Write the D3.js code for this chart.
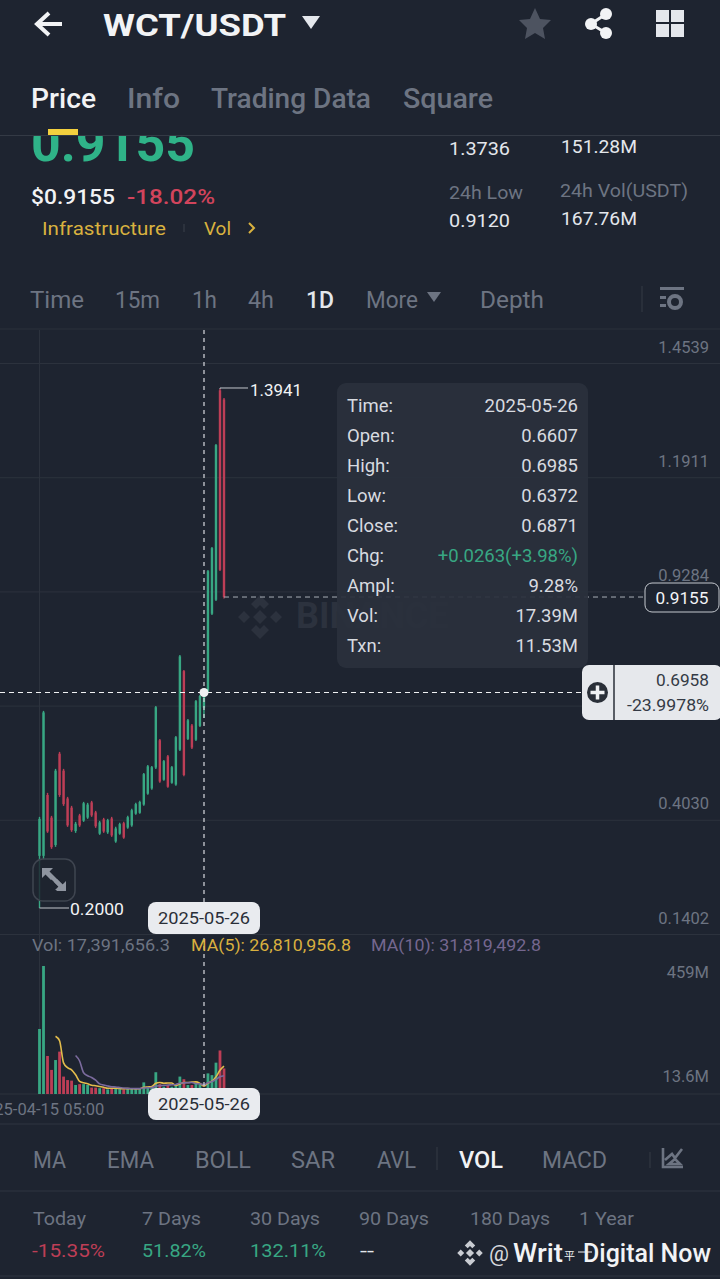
<!DOCTYPE html>
<html><head><meta charset="utf-8">
<style>html,body{margin:0;padding:0;background:#1e2430;overflow:hidden}svg{display:block}text{font-family:Roboto,"Noto Sans",sans-serif}</style>
<script src="https://d3js.org/d3.v7.min.js"></script></head><body>
<svg id="c" width="720" height="1279"></svg>
<script>
const highs=[.4097,.6535,.4649,.4120,.5201,.5592,.5201,.4557,.4350,.3982,.4166,.4442,.4419,.4465,.4235,.4005,.4074,.4051,.4097,.3867,.3959,.3982,.4120,.4281,.4419,.4465,.5109,.5293,.5270,.6650,.5891,.5408,.5523,.5270,.5960,.7823,.7478,.6351,.6236,.6788,.6903,.6985,.9778,1.0307,1.2676,1.3941,1.3736];
const lows=[.2000,.3108,.3729,.3361,.3407,.4557,.4350,.3867,.3752,.3729,.3867,.3982,.4051,.4097,.3844,.3683,.3729,.3706,.3637,.3499,.3683,.3591,.3821,.3867,.4143,.4166,.4350,.4603,.4718,.5201,.4879,.4925,.4764,.4856,.4810,.5615,.5029,.5868,.5661,.5845,.6167,.6372,.6972,.8743,.9065,.9755,.9120];
const opens=[.320,.320,.460,.408,.345,.555,.516,.452,.431,.377,.413,.401,.408,.443,.420,.371,.404,.374,.406,.353,.371,.395,.385,.390,.417,.419,.438,.463,.475,.523,.586,.495,.549,.488,.484,.564,.745,.589,.620,.587,.619,.6607,.700,.877,.909,1.391,1.370];
const closes=[.405,.650,.376,.340,.516,.460,.439,.390,.379,.394,.390,.441,.438,.413,.388,.397,.376,.402,.367,.383,.393,.362,.409,.425,.439,.444,.508,.526,.524,.662,.491,.538,.479,.524,.593,.779,.506,.632,.569,.676,.688,.6871,.975,1.028,1.265,.978,.9155];
const volumes=[224,441,131,83,117,146,60,48,46,31,34,34,31,22,22,20,20,16,20,22,17,16,18,18,19,19,40,25,25,75,34,25,31,25,31,60,51,31,31,36,34,17.39,71,65,108,150,88];
const ma5=[null,null,null,null,199.2,183.6,107.4,90.8,83.4,66.2,43.8,38.6,35.2,30.4,28.6,25.8,23,20,19.6,19.6,19,18.2,18.6,18.2,17.6,18,22.8,24.2,25.6,36.8,39.8,36.8,38,38,29.2,34.4,39.6,39.6,40.8,41.8,36.6,26.8,37.9,44.7,59,82,96];
const ma10=[null,null,null,null,null,null,null,null,null,132.7,113.7,73,63,56.9,47.4,34.8,30.8,27.6,25,24.1,22.4,20.6,19.3,18.9,18.6,18.5,20.5,21.4,21.9,27.2,28.9,29.8,31.1,31.8,33,37.1,38.2,38.8,39.4,35.5,35.5,31.8,38.7,42.7,50.4,59.4,63.1];
const priceTicks=[1.4539,1.1911,0.9284,0.6657,0.4030,0.1402];
const volTicks=[459,13.6];
const xTickLabels=["2025-04-15 05:00"];
const tooltipKeys=["Time:","Open:","High:","Low:","Close:","Chg:","Ampl:","Vol:","Txn:"];
const tooltipVals=["2025-05-26","0.6607","0.6985","0.6372","0.6871","+0.0263(+3.98%)","9.28%","17.39M","11.53M"];

const UP="#38a783",DN="#bd3e56",GRID="#2c323d",GRAY="#6d7482",LIGHT="#e4e7ec",WHITE="#f2f3f5",YEL="#d9b23f";
const svg=d3.select("#c");
const t=(sel,x,y,s,o={})=>{const e=sel.append("text").attr("x",x).attr("y",y).attr("dominant-baseline","central")
 .attr("font-size",o.size||18).attr("fill",o.fill||LIGHT).attr("font-weight",o.weight||400).attr("text-anchor",o.anchor||"start").text(s);
 if(o.w)e.attr("textLength",o.w).attr("lengthAdjust","spacingAndGlyphs");return e;};
const hline=(sel,x1,x2,y,c)=>sel.append("line").attr("x1",x1).attr("x2",x2).attr("y1",y).attr("y2",y).attr("stroke",c).attr("stroke-width",1);

svg.append("rect").attr("width",720).attr("height",1279).attr("fill","#1e2430");

// ---- scales
const x=d3.scaleLinear().domain([0,46]).range([39.5,224]);
const y=d3.scaleLinear().domain([1.4539,0.1402]).range([363,934]);
const v=d3.scaleLinear().domain([0,441]).range([1094,966]);

// ---- axes
const pa=svg.append("g").call(d3.axisRight(y).tickValues(priceTicks).tickSize(720).tickFormat(d3.format(".4f")));
pa.select(".domain").remove();
pa.selectAll("line").attr("stroke",GRID);
pa.selectAll("text").attr("x",709).attr("dy",-11).attr("text-anchor","end").attr("fill",GRAY).attr("font-size",16.5).attr("font-family","Roboto");
hline(svg,0,720,1094,GRID);
svg.append("line").attr("x1",39.5).attr("x2",39.5).attr("y1",330).attr("y2",1094).attr("stroke",GRID);

const va=svg.append("g").call(d3.axisRight(v).tickValues(volTicks).tickSize(0).tickFormat(d=>d+"M"));
va.select(".domain").remove();
va.selectAll("text").attr("x",709).attr("text-anchor","end").attr("fill",GRAY).attr("font-size",16.5).attr("font-family","Roboto")
  .attr("dy",d=>d>100?17:-9);

const xa=svg.append("g").attr("transform","translate(0,1094)").call(d3.axisBottom(x).tickValues([0]).tickSize(0).tickFormat((d,i)=>xTickLabels[i]));
xa.select(".domain").remove();
xa.selectAll("text").attr("y",15).attr("dy",0).attr("dominant-baseline","central").attr("fill",GRAY).attr("font-size",16.5).attr("font-family","Roboto");

// ---- watermark
const wm=svg.append("g").attr("fill","#2c323e");
wm.append("path").attr("transform","translate(260,617)").attr("d","M0,-22L9,-13L4,-8L0,-12L-4,-8L-9,-13ZM-22,0L-16,-6L-10,0L-16,6ZM10,0L16,-6L22,0L16,6ZM0,-7L7,0L0,7L-7,0ZM0,22L9,13L4,8L0,12L-4,8L-9,13Z");
t(wm,296,616,"BINANCE",{size:36,weight:700,fill:"#2c323e"});

// ---- candles
const idx=d3.range(highs.length);
const col=i=>closes[i]>=opens[i]?UP:DN;
svg.append("g").selectAll("line").data(idx).join("line")
 .attr("x1",x).attr("x2",x).attr("y1",i=>y(highs[i])).attr("y2",i=>y(lows[i])).attr("stroke",col).attr("stroke-width",1.4);
svg.append("g").selectAll("rect").data(idx).join("rect")
 .attr("x",i=>x(i)-1.2).attr("width",2.4).attr("y",i=>Math.min(y(opens[i]),y(closes[i])))
 .attr("height",i=>Math.max(1,Math.abs(y(opens[i])-y(closes[i])))).attr("fill",col);

// ---- volume
svg.append("g").selectAll("rect").data(idx).join("rect")
 .attr("x",i=>x(i)-1.4).attr("width",2.8).attr("y",i=>v(volumes[i])).attr("height",i=>1094-v(volumes[i])).attr("fill",col);
const ln=d3.line().defined(d=>d!=null).x((d,i)=>x(i)).y(d=>v(d)).curve(d3.curveMonotoneX);
svg.append("path").attr("d",ln(ma5)).attr("fill","none").attr("stroke","#e3bc4c").attr("stroke-width",1.6);
svg.append("path").attr("d",ln(ma10)).attr("fill","none").attr("stroke","#7c6b9e").attr("stroke-width",1.6);

// ---- price line, crosshair
svg.append("line").attr("x1",224).attr("x2",645).attr("y1",y(.9155)).attr("y2",y(.9155)).attr("stroke","#a9aeb6").attr("stroke-dasharray","5 4");
svg.append("line").attr("x1",204).attr("x2",204).attr("y1",330).attr("y2",1094).attr("stroke","#d9dbe0").attr("stroke-dasharray","4 4").attr("stroke-width",1.2);
svg.append("line").attr("x1",0).attr("x2",582).attr("y1",y(.6958)).attr("y2",y(.6958)).attr("stroke","#f0f1f3").attr("stroke-dasharray","5 4").attr("stroke-width",1.2);
svg.append("circle").attr("cx",204).attr("cy",y(.6958)).attr("r",4.5).attr("fill","#eef0f2");

// ---- extreme labels
svg.append("path").attr("d",`M${x(45)},${y(1.3941)}V${y(1.3941)-1}H248`).attr("stroke","#c3c6cc").attr("fill","none");
t(svg,250,390,"1.3941",{size:16.5,w:52,fill:WHITE});
svg.append("path").attr("d",`M${x(0)},${y(.2)}H69`).attr("stroke","#c3c6cc").attr("fill","none");
t(svg,70,909,"0.2000",{size:16.5,w:54,fill:WHITE});

// ---- expand button
const ex=svg.append("g");
ex.append("rect").attr("x",33).attr("y",859).attr("width",42).attr("height",42).attr("rx",10).attr("fill","#1e2430").attr("fill-opacity",.82).attr("stroke","#3f4550").attr("stroke-width",1.5);
ex.append("path").attr("fill","#8f95a0").attr("d","M42,868H53L49.5,871.5L66,888L66,879 L66,890H55L58.5,886.5L42,870V879Z");
ex.append("path").attr("fill","#8f95a0").attr("d","M42,868H52L48.5,871.5L54,877L51,880L45.5,874.5L42,878ZM66,891H56L59.5,887.5L54,882L57,879L62.5,884.5L66,881Z");

// ---- tooltip
const tip=svg.append("g");
tip.append("rect").attr("x",337).attr("y",383).attr("width",251).attr("height",285).attr("rx",9).attr("fill","#2a303c").attr("fill-opacity",.93);
tooltipKeys.forEach((k,i)=>{
  t(tip,347,406+i*30,k,{size:18.5,fill:"#d8dbe0"});
  t(tip,578,406+i*30,tooltipVals[i],{size:18.5,anchor:"end",fill:i==5?UP:"#d8dbe0"});
});

// ---- tags
const tag=(cy)=>{const g=svg.append("g");g.append("rect").attr("x",148).attr("y",cy-16).attr("width",112).attr("height",32).attr("rx",8).attr("fill","#e9ebef");
 t(g,204,cy,"2025-05-26",{size:16.5,w:92,anchor:"middle",fill:"#2a2f38"});};
tag(918);tag(1104);
svg.append("rect").attr("x",645).attr("y",583).attr("width",74).attr("height",29).attr("rx",7).attr("fill","#1e2430").attr("stroke","#c4c8ce");
t(svg,682,598,"0.9155",{size:17,anchor:"middle",fill:WHITE,w:53});
const bx=svg.append("g");
bx.append("rect").attr("x",582).attr("y",665).attr("width",140).attr("height",55).attr("rx",7).attr("fill","#e6e8ec");
bx.append("line").attr("x1",614).attr("x2",614).attr("y1",665).attr("y2",720).attr("stroke","#2a2f38").attr("stroke-width",1.5);
bx.append("circle").attr("cx",597.5).attr("cy",692.5).attr("r",10.5).attr("fill","#2a2f38");
bx.append("path").attr("d","M597.5,685.5V699.5M590.5,692.5H604.5").attr("stroke","#f0f1f3").attr("stroke-width",3.5);
t(bx,709,680,"0.6958",{size:17,anchor:"end",fill:"#343a45",w:53});
t(bx,709,705,"-23.9978%",{size:17,anchor:"end",fill:"#343a45",w:82});

// ---- legend
t(svg,32,945,"Vol: 17,391,656.3",{size:16.5,fill:GRAY,w:138});
t(svg,191,945,"MA(5): 26,810,956.8",{size:16.5,fill:"#d9b03f",w:160});
t(svg,371,945,"MA(10): 31,819,492.8",{size:16.5,fill:"#75678f",w:170});

// ---- top stats (clip big price under tabs)
const defs=svg.append("defs");
defs.append("clipPath").attr("id","clipP").append("rect").attr("x",0).attr("y",136).attr("width",720).attr("height",100);
t(svg,31,143,"0.9155",{size:52,weight:700,fill:"#2fb388",w:164}).attr("clip-path","url(#clipP)");
t(svg,31,197,"$0.9155",{size:21,weight:500,fill:WHITE,w:84});
t(svg,127,197,"-18.02%",{size:21,weight:500,fill:"#d2445c",w:88});
t(svg,42,228,"Infrastructure",{size:19,fill:YEL,w:124});
svg.append("line").attr("x1",184).attr("x2",184).attr("y1",224).attr("y2",232).attr("stroke","#3a404b");
t(svg,204,228,"Vol",{size:19,fill:YEL,w:27});
svg.append("path").attr("d","M249,223L254,228L249,233").attr("fill","none").attr("stroke",YEL).attr("stroke-width",2);
t(svg,449,149,"1.3736",{size:18.5,w:61});t(svg,561,147,"151.28M",{size:18.5,w:76});
t(svg,449,193,"24h Low",{size:18.5,fill:GRAY,w:74});t(svg,560,191,"24h Vol(USDT)",{size:18.5,fill:GRAY,w:128});
t(svg,449,221,"0.9120",{size:18.5,w:61});t(svg,561,219,"167.76M",{size:18.5,w:76});

// ---- header
svg.append("path").attr("d","M62,24H38M49,13L37,24L49,35").attr("fill","none").attr("stroke",WHITE).attr("stroke-width",4);
t(svg,103,25,"WCT/USDT",{size:32,weight:700,fill:WHITE,w:183});
svg.append("path").attr("d","M302,16H320L311,29Z").attr("fill",LIGHT);
svg.append("path").attr("d","M535,8L540,19L551,20L543,28L545,39L535,33L525,39L527,28L519,20L530,19Z").attr("fill","#4d5360");
const sh=svg.append("g").attr("fill",WHITE);
sh.append("circle").attr("cx",606).attr("cy",14).attr("r",6);sh.append("circle").attr("cx",591).attr("cy",24).attr("r",6);sh.append("circle").attr("cx",606).attr("cy",33).attr("r",6);
svg.append("path").attr("d","M606,14L591,24L606,33").attr("fill","none").attr("stroke",WHITE).attr("stroke-width",3);
[[656,10,12],[671,10,12],[656,24,13],[671,24,13]].forEach(r=>svg.append("rect").attr("x",r[0]).attr("y",r[1]).attr("width",13).attr("height",r[2]).attr("fill",LIGHT));

[["Price",31,65,"#f2f3f5",500],["Info",127,53,GRAY,500],["Trading Data",211,160,GRAY,500],["Square",403,90,GRAY,500]]
 .forEach(d=>t(svg,d[1],99,d[0],{size:27,w:d[2],fill:d[3],weight:d[4]}));
svg.append("rect").attr("x",0).attr("y",135).attr("width",720).attr("height",1).attr("fill","#343a45");
svg.append("rect").attr("x",48).attr("y",129).attr("width",30).attr("height",6).attr("fill","#f3d03e");

// ---- toolbar
[["Time",30,54,GRAY],["15m",115,45,GRAY],["1h",192,25,GRAY],["4h",248,26,GRAY],["1D",306,28,LIGHT],["More",366,52,GRAY],["Depth",480,64,GRAY]]
 .forEach(d=>t(svg,d[1],300,d[0],{size:23,w:d[2],fill:d[3],weight:d[0]=="1D"?500:400}));
svg.append("path").attr("d","M427,292H441L434,302Z").attr("fill",GRAY);
svg.append("line").attr("x1",642).attr("x2",642).attr("y1",286).attr("y2",312).attr("stroke","#343a45");
const ic=svg.append("g");
ic.append("rect").attr("x",660).attr("y",287).attr("width",24).attr("height",3).attr("fill",GRAY);
ic.append("rect").attr("x",660).attr("y",296).attr("width",6).attr("height",3).attr("fill",GRAY);
ic.append("rect").attr("x",660).attr("y",304).attr("width",6).attr("height",3).attr("fill",GRAY);
ic.append("circle").attr("cx",675).attr("cy",302).attr("r",6).attr("fill","none").attr("stroke",GRAY).attr("stroke-width",4);
hline(svg,0,720,329,"#2a303b");

// ---- indicator row
[["MA",33,33,GRAY],["EMA",107,47,GRAY],["BOLL",195,56,GRAY],["SAR",291,44,GRAY],["AVL",377,39,GRAY],["VOL",459,44,WHITE],["MACD",542,65,GRAY]]
 .forEach(d=>t(svg,d[1],1160,d[0],{size:23,w:d[2],fill:d[3],weight:d[0]=="VOL"?500:400}));
svg.append("line").attr("x1",437).attr("x2",437).attr("y1",1147).attr("y2",1170).attr("stroke","#343a45");
svg.append("line").attr("x1",650).attr("x2",650).attr("y1",1152).attr("y2",1168).attr("stroke","#343a45");
svg.append("path").attr("d","M663,1148V1167H683M665,1160L672,1154L675,1158L682,1149M669,1164H680L675,1159Z").attr("fill","none").attr("stroke",GRAY).attr("stroke-width",2.6);
hline(svg,0,720,1124,"#2e3440");
hline(svg,0,720,1191,"#2e3440");
hline(svg,0,720,1276,"#2e3440");

// ---- returns
[["Today",33,53],["7 Days",142,59],["30 Days",250,70],["90 Days",359,70],["180 Days",470,80],["1 Year",579,55]]
 .forEach(d=>t(svg,d[1],1218,d[0],{size:19,w:d[2],fill:GRAY}));
[["-15.35%",32,73,DN],["51.82%",142,64,UP],["132.11%",250,76,UP],["--",360,14,LIGHT]]
 .forEach(d=>t(svg,d[1],1250,d[0],{size:19,w:d[2],fill:d[3]}));

// ---- author mark
svg.append("path").attr("transform","translate(470,1253) scale(.58)").attr("fill","#c9ccd2").attr("d","M0,-22L9,-13L4,-8L0,-12L-4,-8L-9,-13ZM-22,0L-16,-6L-10,0L-16,6ZM10,0L16,-6L22,0L16,6ZM0,-7L7,0L0,7L-7,0ZM0,22L9,13L4,8L0,12L-4,8L-9,13Z");
t(svg,489,1253,"@",{size:22,fill:"#d6d9de",w:20});
t(svg,513,1253,"Writ",{size:25,fill:WHITE,w:50,weight:500});
t(svg,564,1255,"平",{size:11,fill:WHITE}).style("font-family","'Noto Sans CJK SC'");
hline(svg,578,592,1252,WHITE);
t(svg,583,1253,"Digital Now",{size:25,fill:WHITE,w:128,weight:500});
</script></body></html>
